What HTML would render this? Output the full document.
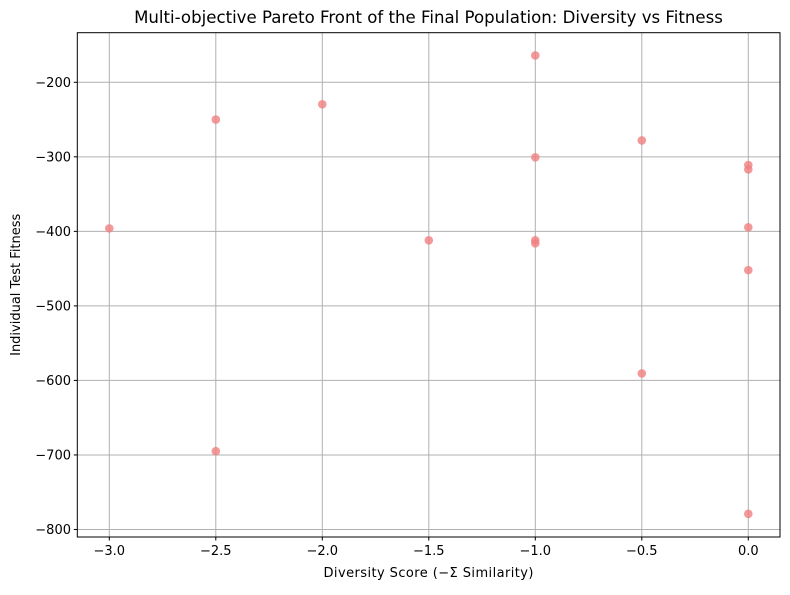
<!DOCTYPE html>
<html><head><meta charset="utf-8"><style>
body{margin:0;background:#fff;}
svg text{font-family:"DejaVu Sans","Liberation Sans",sans-serif;fill:#000;}
</style></head><body>
<svg width="790" height="590">
<g id="grid"></g>
<g id="ticks"></g>
<g id="points"></g>
<rect x="77.3" y="32.7" width="702.7" height="504.3" fill="none" stroke="#000" stroke-width="1"/>
<text x="428.5" y="23" font-size="16.6" text-anchor="middle">Multi-objective Pareto Front of the Final Population: Diversity vs Fitness</text>
<text x="428.5" y="577" font-size="13" text-anchor="middle" textLength="210">Diversity Score (−Σ Similarity)</text>
<text x="20" y="284.8" font-size="13" text-anchor="middle" transform="rotate(-90 20 284.8)">Individual Test Fitness</text>
</svg>
<script>
const xs=[-1,-2.5,-2,-1,-0.5,0,0,-3,0,-1.5,-1,-1,0,-0.5,-2.5,0];
const ys=[-164,-250,-229.5,-300.7,-278,-311,-317,-396,-394.6,-412,-412,-416,-452,-590.6,-695,-779];
const xTicks=[-3,-2.5,-2,-1.5,-1,-0.5,0];
const xTickLabels=["−3.0","−2.5","−2.0","−1.5","−1.0","−0.5","0.0"];
const yTicks=[-200,-300,-400,-500,-600,-700,-800];
const yTickLabels=["−200","−300","−400","−500","−600","−700","−800"];
const X=v=>748.3+(v)*213;
const Y=v=>82.3+(-200-v)*0.7453;
const NS="http://www.w3.org/2000/svg";
const g=document.getElementById('grid'),t=document.getElementById('ticks'),p=document.getElementById('points');
function mk(tag,attrs,parent){const e=document.createElementNS(NS,tag);for(const k in attrs)e.setAttribute(k,attrs[k]);parent.appendChild(e);return e;}
xTicks.forEach((v,i)=>{const x=X(v);
const l=mk('line',{x1:x,x2:x,y1:32.7,y2:537,stroke:'#b0b0b0','stroke-width':1},g);


const tk=mk('line',{x1:x,x2:x,y1:537,y2:540.5,stroke:'#000'},t);


const tx=mk('text',{x:x,y:555,'font-size':13,'text-anchor':'middle'},t);tx.textContent=xTickLabels[i];


});
yTicks.forEach((v,i)=>{const y=Y(v);
const l=mk('line',{x1:77.3,x2:780,y1:y,y2:y,stroke:'#b0b0b0','stroke-width':1},g);


const tk=mk('line',{x1:73.8,x2:77.3,y1:y,y2:y,stroke:'#000'},t);


const tx=mk('text',{x:71,y:y+4.6,'font-size':13,'text-anchor':'end'},t);tx.textContent=yTickLabels[i];


});
xs.forEach((v,i)=>{
const c=mk('circle',{cx:X(v),cy:Y(ys[i]),r:4.3,fill:'#f08080','fill-opacity':0.8},p);


});
</script>
</body></html>
